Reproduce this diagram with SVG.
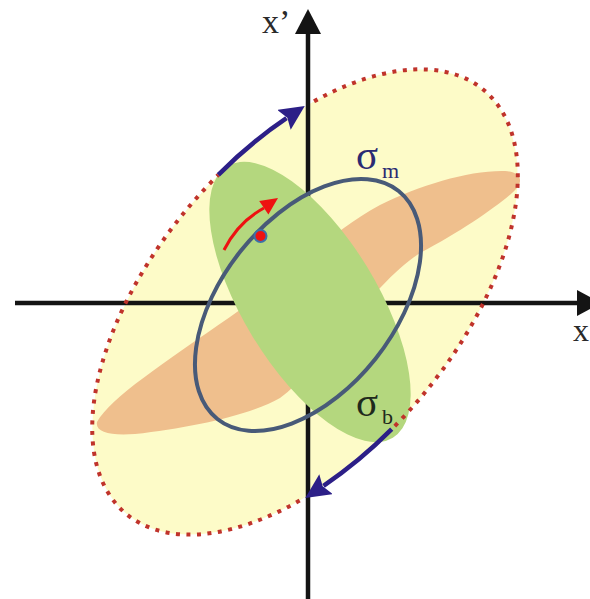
<svg xmlns="http://www.w3.org/2000/svg" width="590" height="599" viewBox="0 0 590 599">
<style>
.ax{stroke:#141414;stroke-width:4.5;fill:none}
.axh{fill:#141414}
.lbl{font-family:"Liberation Serif","Times New Roman",serif;fill:#2a2a2a}
.sig{font-family:"Liberation Serif","Times New Roman",serif}
.dot{fill:none;stroke:#c0332b;stroke-width:4;stroke-dasharray:4 6.5}
.barr{fill:none;stroke:#2c1f87;stroke-width:4.5}
</style>
<defs>
<marker id="bh" markerUnits="userSpaceOnUse" markerWidth="28" markerHeight="26" refX="3" refY="12" orient="auto">
<path d="M0,0 L25,12 L0,24 L4,12 z" fill="#2c1f87"/>
</marker>
</defs>
<rect width="590" height="599" fill="#ffffff"/>
<g id="sigma-total">
<ellipse cx="305" cy="302" rx="277" ry="150" transform="rotate(-49.7 305 302)" fill="#fdfbc8"/>
</g>
<g id="axes">
<line class="ax" x1="308" y1="33" x2="308" y2="599"/>
<polygon class="axh" points="308,9 295,34 321,34"/>
<line class="ax" x1="15" y1="303" x2="578" y2="303"/>
<polygon class="axh" points="601,303 577,290 577,316"/>
<text class="lbl" x="262" y="33" font-size="34">x’</text>
<text class="lbl" x="573" y="341" font-size="32">x</text>
</g>
<g id="orange-band">
<path d="M97,422 C110,398 165,362 230,317 C290,275 330,232 380,205 C420,185 470,170 505,171 C522,172 525,182 512,193 C495,208 460,232 420,253 C370,285 320,370 280,398 C250,415 190,428 135,434 C110,436 95,432 97,422 Z" fill="#efbf8d"/>
</g>
<g id="sigma-b">
<ellipse cx="310" cy="302" rx="159" ry="67" transform="rotate(58.6 310 302)" fill="#b4d77e"/>
<text class="sig" x="356" y="416" font-size="41" fill="#1f2a1c">σ</text>
<text class="sig" x="382" y="424" font-size="22" fill="#1f2a1c">b</text>
</g>
<g id="sigma-m">
<ellipse cx="308" cy="305" rx="145.6" ry="86.3" transform="rotate(-51.5 308 305)" fill="none" stroke="#485a78" stroke-width="4"/>
<text class="sig" x="356" y="169" font-size="41" fill="#2b2a72">σ</text>
<text class="sig" x="382" y="178" font-size="22" fill="#2b2a72">m</text>
</g>
<g id="connectors">
<path class="dot" d="M314.05,101.3 A277 150 -49.7 0 1 391.7,429.2"/>
<path class="dot" d="M299.65,500.6 A277 150 -49.7 0 1 218.3,174.8"/>
<path class="barr" d="M218.3,174.8 A277 150 -49.7 0 1 286.5,118.2" marker-end="url(#bh)"/>
<path class="barr" d="M391.7,429.2 A277 150 -49.7 0 1 323.5,485.8" marker-end="url(#bh)"/>
<path d="M224,250 Q238,222 264,208" fill="none" stroke="#ee1111" stroke-width="3"/>
<polygon points="278,198 268.4,214.5 259.2,201" fill="#ee1111"/>
</g>
<g id="state-point">
<circle cx="260.5" cy="236" r="6" fill="#ee1111" stroke="#3d6fa8" stroke-width="2"/>
</g>
</svg>
